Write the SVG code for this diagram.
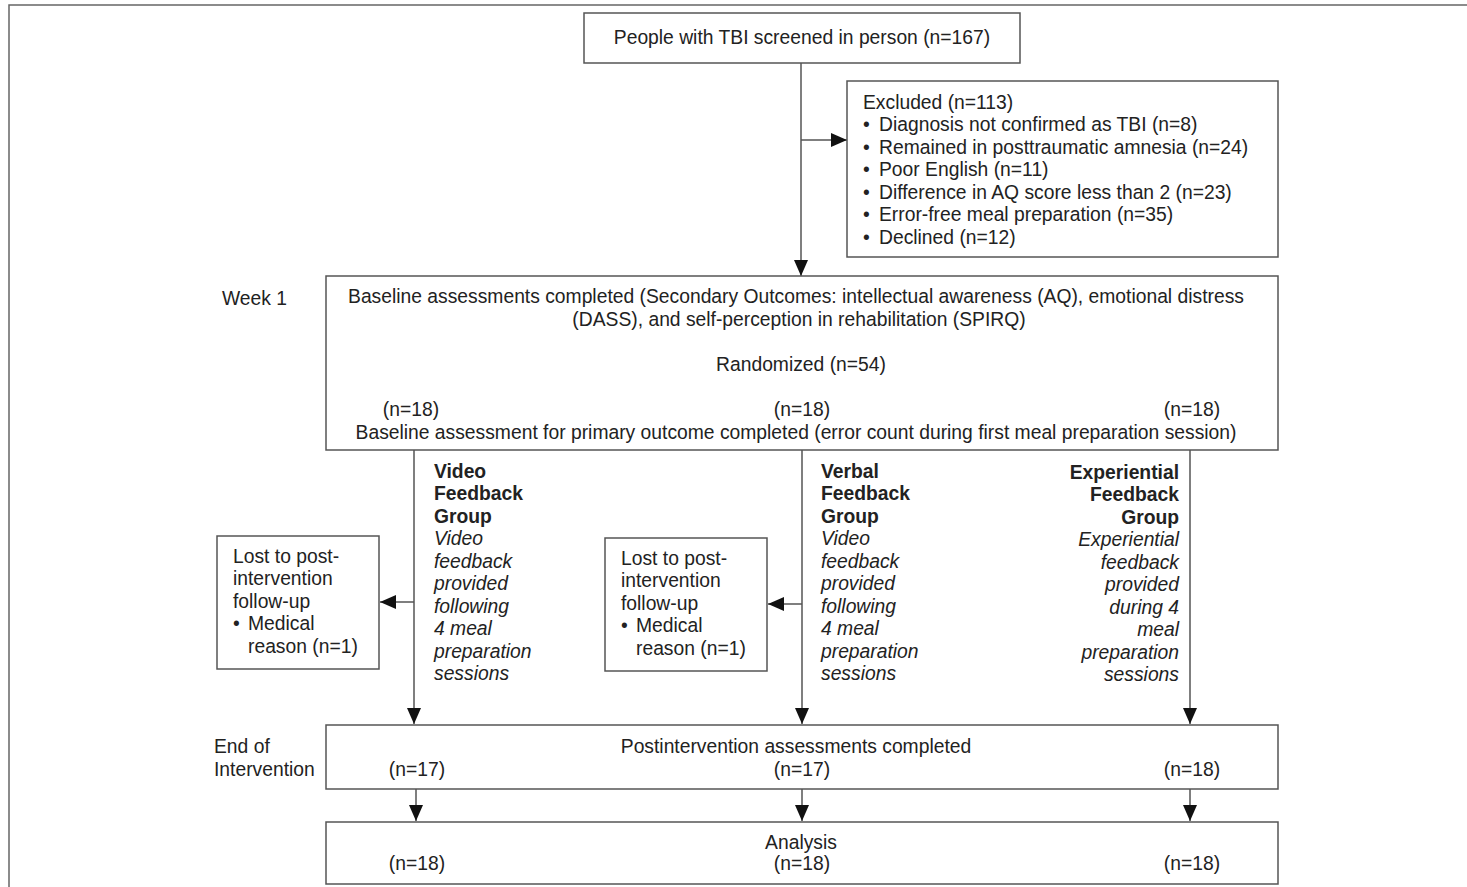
<svg xmlns="http://www.w3.org/2000/svg" width="1467" height="887" viewBox="0 0 1467 887">
<style>
text{font-family:"Liberation Sans",Arial,sans-serif;font-size:19.3px;fill:#222}
.c{text-anchor:middle}
.r{text-anchor:end}
.b{font-weight:bold}
.i{font-style:italic}
.box{fill:#fff;stroke:#555;stroke-width:1.5}
.ln{stroke:#555;stroke-width:1.5;fill:none}
</style>
<defs>
<marker id="ah" markerUnits="userSpaceOnUse" markerWidth="16" markerHeight="14" refX="16" refY="7" orient="auto">
<path d="M0,0 L16,7 L0,14 z" fill="#111"/>
</marker>
</defs>
<rect width="1467" height="887" fill="#fff"/>
<path d="M9,887 V5 H1467" fill="none" stroke="#666" stroke-width="1.5"/>

<g id="connectors">
<line class="ln" x1="801" y1="63" x2="801" y2="276" marker-end="url(#ah)"/>
<line class="ln" x1="801" y1="140" x2="847" y2="140" marker-end="url(#ah)"/>
<line class="ln" x1="414" y1="450" x2="414" y2="724" marker-end="url(#ah)"/>
<line class="ln" x1="802" y1="450" x2="802" y2="724" marker-end="url(#ah)"/>
<line class="ln" x1="1190" y1="450" x2="1190" y2="724" marker-end="url(#ah)"/>
<line class="ln" x1="414" y1="602" x2="380" y2="602" marker-end="url(#ah)"/>
<line class="ln" x1="802" y1="604" x2="768" y2="604" marker-end="url(#ah)"/>
<line class="ln" x1="416" y1="789" x2="416" y2="821" marker-end="url(#ah)"/>
<line class="ln" x1="802" y1="789" x2="802" y2="821" marker-end="url(#ah)"/>
<line class="ln" x1="1190" y1="789" x2="1190" y2="821" marker-end="url(#ah)"/>
</g>

<g id="screened">
<rect class="box" x="584" y="13" width="436" height="50"/>
<text class="c" x="802" y="44">People with TBI screened in person (n=167)</text>
</g>

<g id="excluded">
<rect class="box" x="847" y="81" width="431" height="176"/>
<text x="863" y="109">Excluded (n=113)</text>
<text x="863" y="131">•</text><text x="879" y="131">Diagnosis not confirmed as TBI (n=8)</text>
<text x="863" y="154">•</text><text x="879" y="154">Remained in posttraumatic amnesia (n=24)</text>
<text x="863" y="176">•</text><text x="879" y="176">Poor English (n=11)</text>
<text x="863" y="199">•</text><text x="879" y="199">Difference in AQ score less than 2 (n=23)</text>
<text x="863" y="221">•</text><text x="879" y="221">Error-free meal preparation (n=35)</text>
<text x="863" y="244">•</text><text x="879" y="244">Declined (n=12)</text>
</g>

<g id="week1-label"><text x="222" y="305">Week 1</text></g>

<g id="baseline">
<rect class="box" x="326" y="276" width="952" height="174"/>
<text class="c" x="796" y="303">Baseline assessments completed (Secondary Outcomes: intellectual awareness (AQ), emotional distress</text>
<text class="c" x="799" y="326">(DASS), and self-perception in rehabilitation (SPIRQ)</text>
<text class="c" x="801" y="371">Randomized (n=54)</text>
<text class="c" x="411" y="416">(n=18)</text>
<text class="c" x="802" y="416">(n=18)</text>
<text class="c" x="1192" y="416">(n=18)</text>
<text class="c" x="796" y="439">Baseline assessment for primary outcome completed (error count during first meal preparation session)</text>
</g>

<g id="lost1">
<rect class="box" x="217" y="536" width="162" height="133"/>
<text x="233" y="563">Lost to post-</text>
<text x="233" y="585">intervention</text>
<text x="233" y="608">follow-up</text>
<text x="233" y="630">•</text><text x="248" y="630">Medical</text>
<text x="248" y="653">reason (n=1)</text>
</g>

<g id="lost2">
<rect class="box" x="605" y="538" width="162" height="133"/>
<text x="621" y="565">Lost to post-</text>
<text x="621" y="587">intervention</text>
<text x="621" y="610">follow-up</text>
<text x="621" y="632">•</text><text x="636" y="632">Medical</text>
<text x="636" y="655">reason (n=1)</text>
</g>

<g id="video-group">
<text class="b" x="434" y="478">Video</text>
<text class="b" x="434" y="500">Feedback</text>
<text class="b" x="434" y="523">Group</text>
<text class="i" x="434" y="545">Video</text>
<text class="i" x="434" y="568">feedback</text>
<text class="i" x="434" y="590">provided</text>
<text class="i" x="434" y="613">following</text>
<text class="i" x="434" y="635">4 meal</text>
<text class="i" x="434" y="658">preparation</text>
<text class="i" x="434" y="680">sessions</text>
</g>

<g id="verbal-group">
<text class="b" x="821" y="478">Verbal</text>
<text class="b" x="821" y="500">Feedback</text>
<text class="b" x="821" y="523">Group</text>
<text class="i" x="821" y="545">Video</text>
<text class="i" x="821" y="568">feedback</text>
<text class="i" x="821" y="590">provided</text>
<text class="i" x="821" y="613">following</text>
<text class="i" x="821" y="635">4 meal</text>
<text class="i" x="821" y="658">preparation</text>
<text class="i" x="821" y="680">sessions</text>
</g>

<g id="experiential-group">
<text class="b r" x="1179" y="479">Experiential</text>
<text class="b r" x="1179" y="501">Feedback</text>
<text class="b r" x="1179" y="524">Group</text>
<text class="i r" x="1179" y="546">Experiential</text>
<text class="i r" x="1179" y="569">feedback</text>
<text class="i r" x="1179" y="591">provided</text>
<text class="i r" x="1179" y="614">during 4</text>
<text class="i r" x="1179" y="636">meal</text>
<text class="i r" x="1179" y="659">preparation</text>
<text class="i r" x="1179" y="681">sessions</text>
</g>

<g id="end-label">
<text x="214" y="753">End of</text>
<text x="214" y="776">Intervention</text>
</g>

<g id="post">
<rect class="box" x="326" y="725" width="952" height="64"/>
<text class="c" x="796" y="753">Postintervention assessments completed</text>
<text class="c" x="417" y="776">(n=17)</text>
<text class="c" x="802" y="776">(n=17)</text>
<text class="c" x="1192" y="776">(n=18)</text>
</g>

<g id="analysis">
<rect class="box" x="326" y="822" width="952" height="62"/>
<text class="c" x="801" y="849">Analysis</text>
<text class="c" x="417" y="870">(n=18)</text>
<text class="c" x="802" y="870">(n=18)</text>
<text class="c" x="1192" y="870">(n=18)</text>
</g>
</svg>
